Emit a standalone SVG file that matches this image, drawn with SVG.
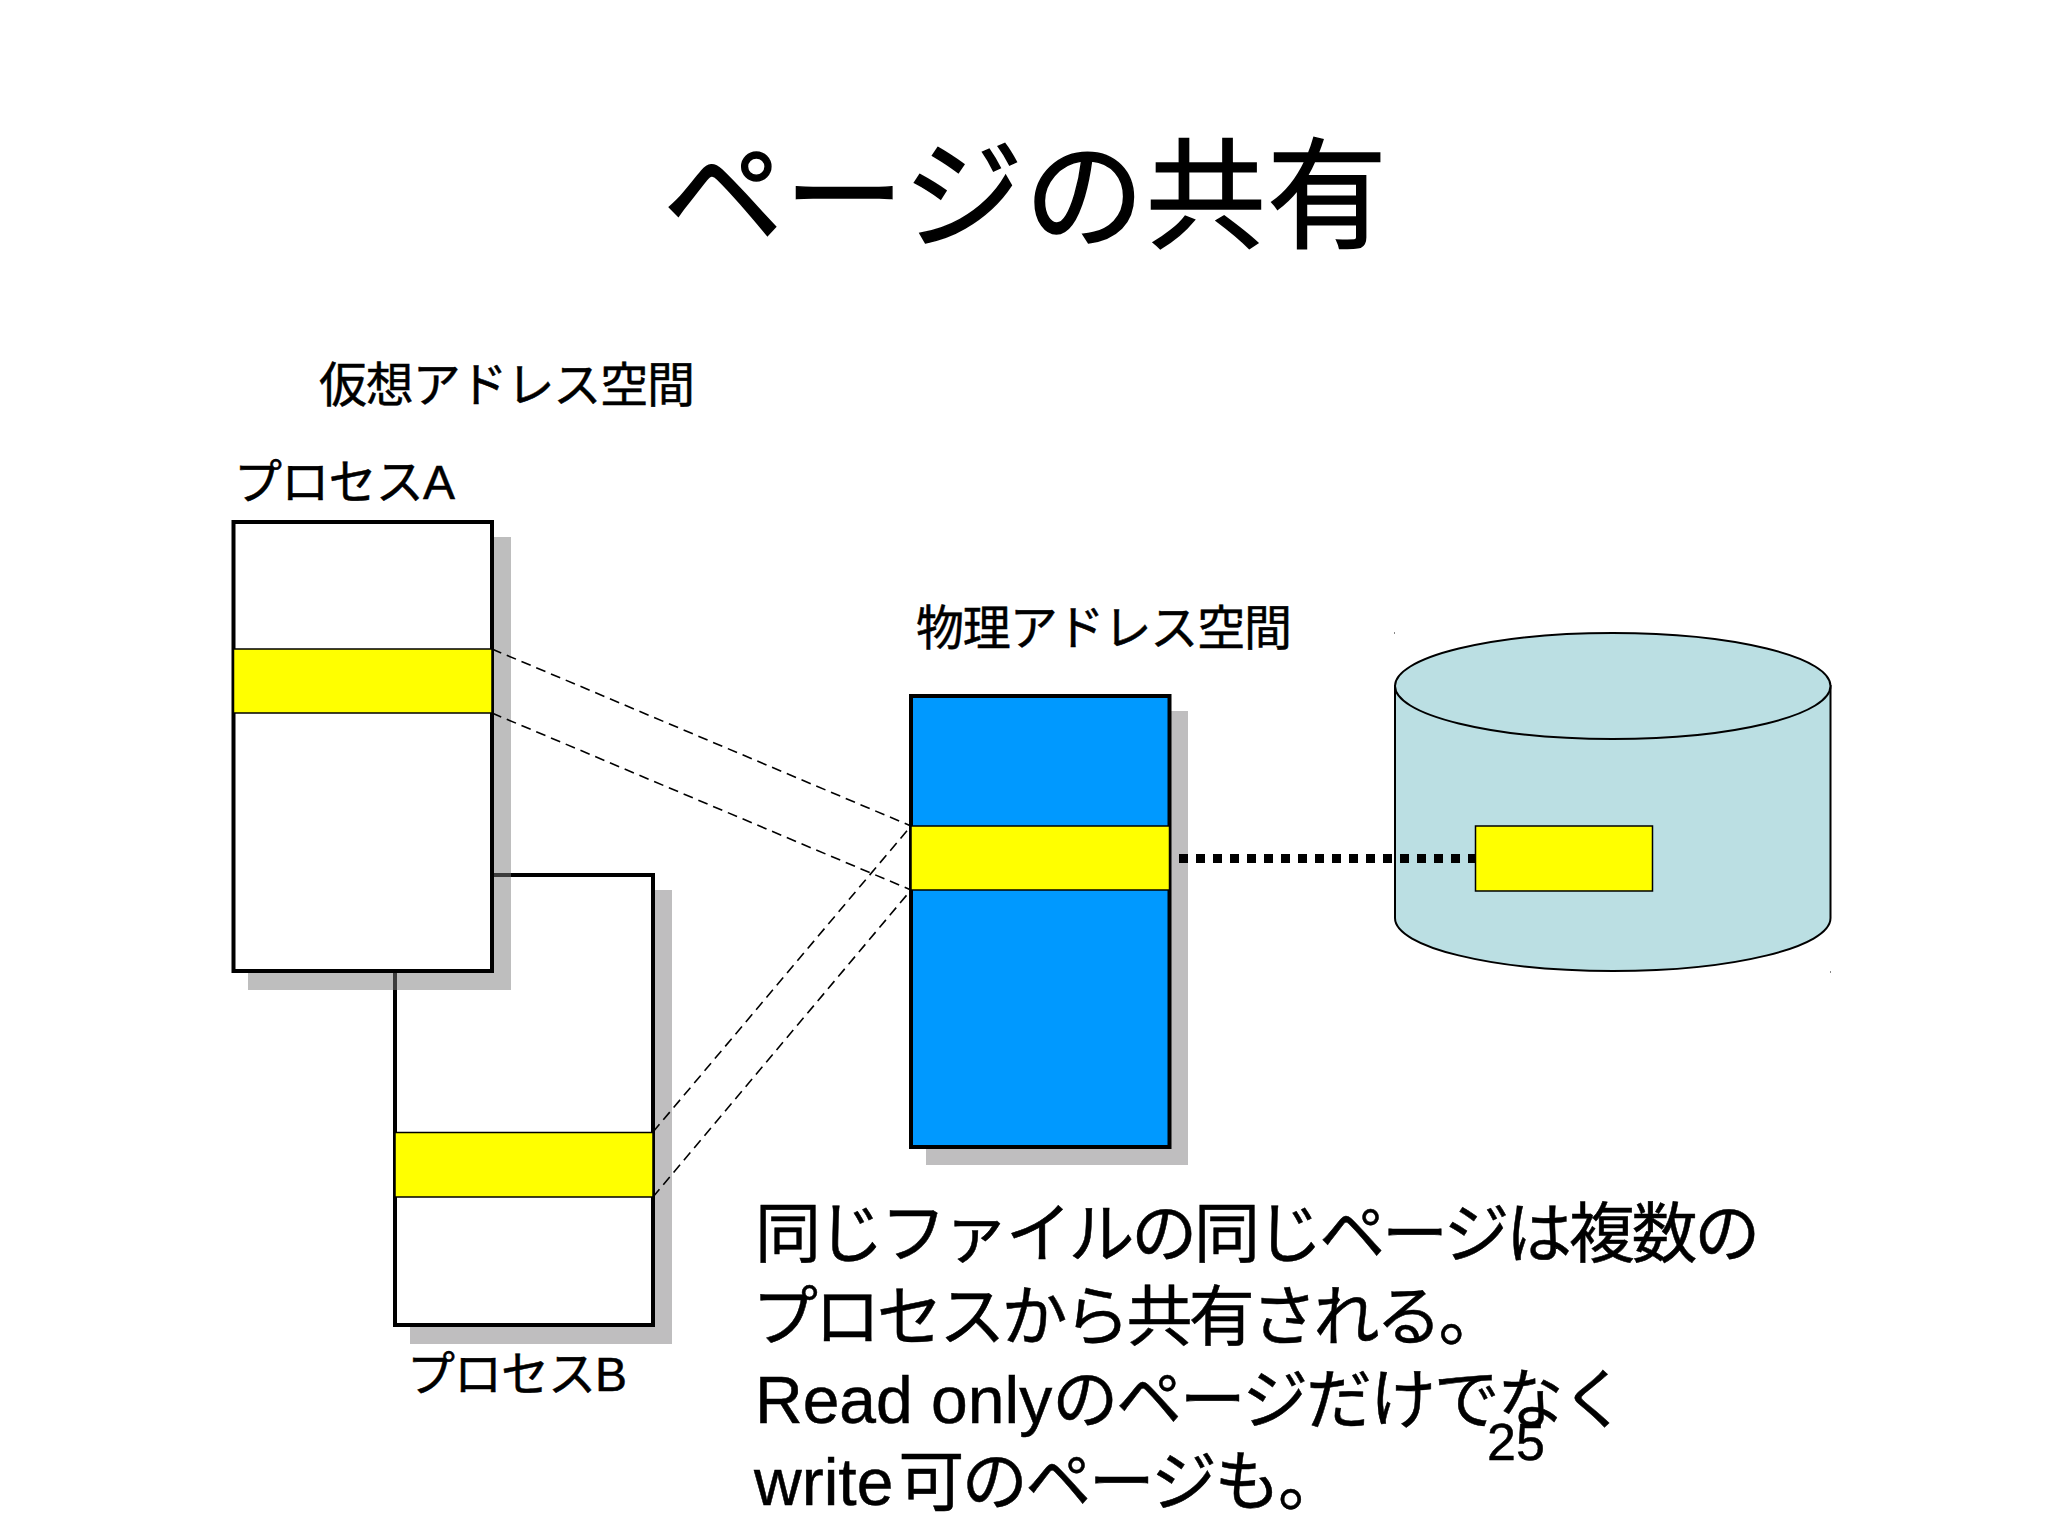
<svg xmlns="http://www.w3.org/2000/svg" width="2048" height="1536" viewBox="0 0 2048 1536">
<style>
text{font-family:"Liberation Sans","Noto Sans CJK JP",sans-serif;fill:#000;stroke:#000;stroke-width:.5}
.lbl{font-size:48px}
.body{font-size:66px}
.cjk{letter-spacing:-3.6px}
.shadow{fill:#bfbebf}
.box{stroke:#000;stroke-width:4}
.page{fill:#ff0;stroke:#000;stroke-width:1.5}
.dash{fill:none;stroke:#000;stroke-width:1.6;stroke-dasharray:10 6}
</style>
<rect width="2048" height="1536" fill="#fff"/>
<text id="title" x="663" y="239" font-size="120" textLength="724" style="stroke-width:1.5">ページの共有</text>
<text class="lbl" x="319" y="402" textLength="376">仮想アドレス空間</text>
<g id="processB">
<rect class="shadow" x="410" y="890" width="262" height="454"/>
<rect class="box" x="395" y="875" width="258" height="450" fill="#fff"/>
<rect class="page" x="395" y="1132.500" width="258" height="64.500"/>
<text class="lbl" x="407" y="1391" textLength="220">プロセスB</text>
</g>
<g id="processA">
<path d="M248 537H511V990H248Z" fill="#7a7a7a" fill-opacity=".49"/>
<rect class="box" x="233.500" y="522" width="258.500" height="449" fill="#fff"/>
<rect class="page" x="233.500" y="649" width="258.500" height="64"/>
<text class="lbl" x="234" y="499" textLength="221">プロセスA</text>
</g>
<g id="physical">
<rect class="shadow" x="926" y="711" width="262" height="454"/>
<rect class="box" x="911" y="696" width="258.500" height="451" fill="#0099ff"/>
<rect class="page" x="911" y="826" width="258.500" height="64"/>
<text class="lbl" x="916" y="645" textLength="376">物理アドレス空間</text>
</g>
<g id="disk">
<path d="M1395 686V918C1395 947 1492 971 1613 971S1830.500 947 1830.500 918V686Z" fill="#bbdfe3" stroke="#000" stroke-width="2"/>
<ellipse cx="1612.750" cy="686" rx="217.750" ry="53" fill="#bbdfe3" stroke="#000" stroke-width="2"/>
<rect class="page" x="1475.500" y="826" width="177" height="65" stroke-width="2"/>
<rect x="1394" y="632" width="1" height="2" fill="#888"/>
<rect x="1830" y="971" width="1" height="2" fill="#888"/>
</g>
<g id="connectors">
<line class="dash" x1="492" y1="649" x2="911" y2="826"/>
<line class="dash" x1="492" y1="713" x2="911" y2="890"/>
<line class="dash" x1="653" y1="1132" x2="911" y2="826"/>
<line class="dash" x1="653" y1="1197" x2="911" y2="890"/>
<line x1="1179" y1="858.500" x2="1475" y2="858.500" stroke="#000" stroke-width="9" stroke-dasharray="9 8"/>
</g>
<g id="caption">
<text class="body" x="755" y="1257"><tspan class="cjk" style="letter-spacing:-3.3px">同じファイルの同じページは複数の</tspan></text>
<text class="body" x="752" y="1340"><tspan class="cjk">プロセスから共有される。</tspan></text>
<text class="body" x="755" y="1423">Read only<tspan class="cjk" style="letter-spacing:-2.2px">のページだけでなく</tspan></text>
<text class="body" x="754" y="1505">write<tspan class="cjk" dx="5" style="letter-spacing:-2.5px">可のページも。</tspan></text>
</g>
<text id="pagenum" x="1487" y="1460" font-size="52">25</text>
</svg>
